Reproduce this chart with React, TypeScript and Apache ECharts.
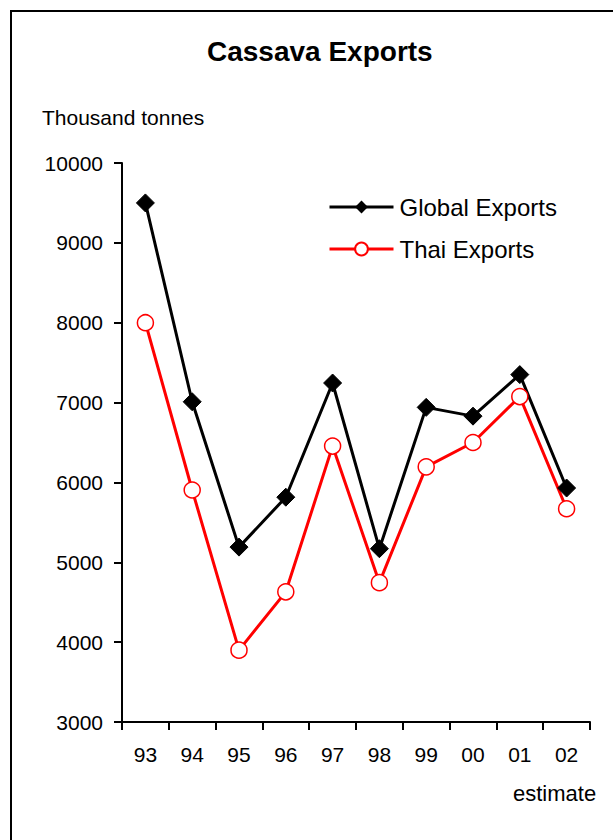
import React, { useEffect, useRef } from "react";
import * as echarts from "echarts";

const years = ["93", "94", "95", "96", "97", "98", "99", "00", "01", "02"];
const globalExports = [9500, 7010, 5190, 5815, 7245, 5170, 6940, 6830, 7350, 5930];
const thaiExports = [8000, 5905, 3900, 4630, 6455, 4745, 6195, 6500, 7075, 5670];
const yTicks = { min: 3000, max: 10000, interval: 1000 };

export default function App() {
  const ref = useRef<HTMLDivElement>(null);
  useEffect(() => {
    if (!ref.current) return;
    const chart = echarts.init(ref.current, null, { renderer: "svg" });
    const font = "Liberation Sans, Arial, sans-serif";
    chart.setOption({
      animation: false,
      backgroundColor: "#fff",
      textStyle: { fontFamily: font },
      title: {
        text: "Cassava Exports",
        left: 207,
        top: 37,
        padding: 0,
        textStyle: { fontSize: 28, fontWeight: "bold", color: "#000", fontFamily: font },
      },
      legend: {
        orient: "vertical",
        left: 328,
        top: 195,
        padding: 0,
        itemWidth: 64,
        itemHeight: 16,
        itemGap: 18,
        lineStyle: { width: 3 },
        textStyle: { fontSize: 24, color: "#000", fontFamily: font, padding: [0, 0, 0, 1] },
        data: ["Global Exports", "Thai Exports"],
      },
      grid: { left: 122, right: 23, top: 163, bottom: 118, containLabel: false },
      xAxis: {
        type: "category",
        data: years,
        boundaryGap: true,
        axisLine: { lineStyle: { color: "#000", width: 2 } },
        axisTick: { show: true, length: 8, inside: false, lineStyle: { color: "#000", width: 2 } },
        axisLabel: { color: "#000", fontSize: 21, margin: 22, fontFamily: font },
        splitLine: { show: false },
      },
      yAxis: {
        type: "value",
        min: yTicks.min,
        max: yTicks.max,
        interval: yTicks.interval,
        axisLine: { show: true, lineStyle: { color: "#000", width: 2 } },
        axisTick: { show: true, length: 8, lineStyle: { color: "#000", width: 2 } },
        axisLabel: {
          color: "#000",
          fontSize: 21,
          margin: 19,
          fontFamily: font,
          formatter: (v: number) => String(v),
        },
        splitLine: { show: false },
      },
      series: [
        {
          name: "Global Exports",
          type: "line",
          data: globalExports,
          symbol: "diamond",
          symbolSize: 18,
          lineStyle: { color: "#000", width: 3 },
          itemStyle: { color: "#000", borderColor: "#000" },
        },
        {
          name: "Thai Exports",
          type: "line",
          data: thaiExports,
          symbol: "circle",
          symbolSize: 16,
          showAllSymbol: true,
          lineStyle: { color: "#ff0000", width: 3 },
          itemStyle: { color: "#fff", borderColor: "#ff0000", borderWidth: 1.5 },
        },
      ],
      graphic: [
        {
          type: "rect",
          shape: { x: 11, y: 11, width: 640, height: 860 },
          style: { fill: "none", stroke: "#000", lineWidth: 2 },
          silent: true,
        },
        {
          type: "text",
          x: 42,
          y: 107,
          style: { text: "Thousand tonnes", fontSize: 21, fill: "#000", fontFamily: font },
        },
        {
          type: "text",
          x: 513,
          y: 782,
          style: { text: "estimate", fontSize: 22, fill: "#000", fontFamily: font },
        },
      ],
    });
    return () => chart.dispose();
  }, []);
  return (
    <div
      ref={ref}
      style={{ position: "absolute", left: 0, top: 0, width: 613, height: 840 }}
    />
  );
}
